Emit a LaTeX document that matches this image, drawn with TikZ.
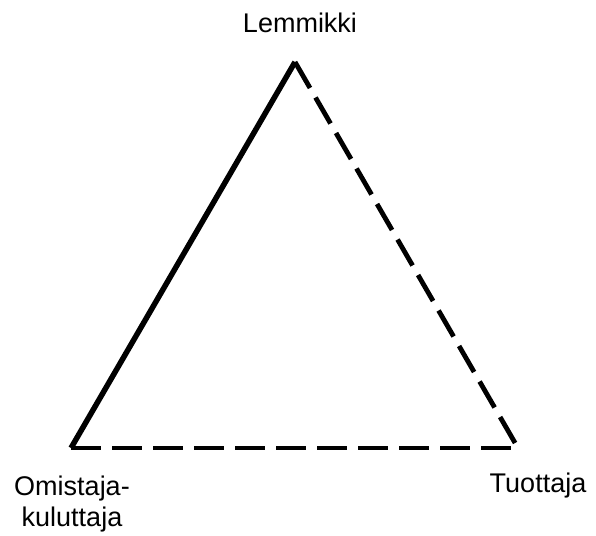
\documentclass[tikz,border=0pt]{standalone}
\usepackage{fontspec}
\setmainfont{Liberation Sans}
\begin{document}
\begin{tikzpicture}[x=1pt, y=-1pt, font=\fontsize{27}{31}\selectfont,
  edge/.style={line width=4.8pt},
  dashedge/.style={edge, dash pattern=on 30pt off 11pt}]
\useasboundingbox (0,0) rectangle (596,535);
\coordinate (L) at (295,62);
\coordinate (O) at (71,448);
\coordinate (T) at (518,448);
\draw[edge, line width=5.5pt](O)--(L);
\draw[dashedge](L)--(T);
\draw[dashedge](O)--(T);
\node (lemmikki) at (300,33)[anchor=base]{Lemmikki};
\node (omistaja) at (72,526)[anchor=base, align=center]{Omistaja-\\kuluttaja};
\node (tuottaja) at (538,492)[anchor=base]{Tuottaja};
\end{tikzpicture}
\end{document}
